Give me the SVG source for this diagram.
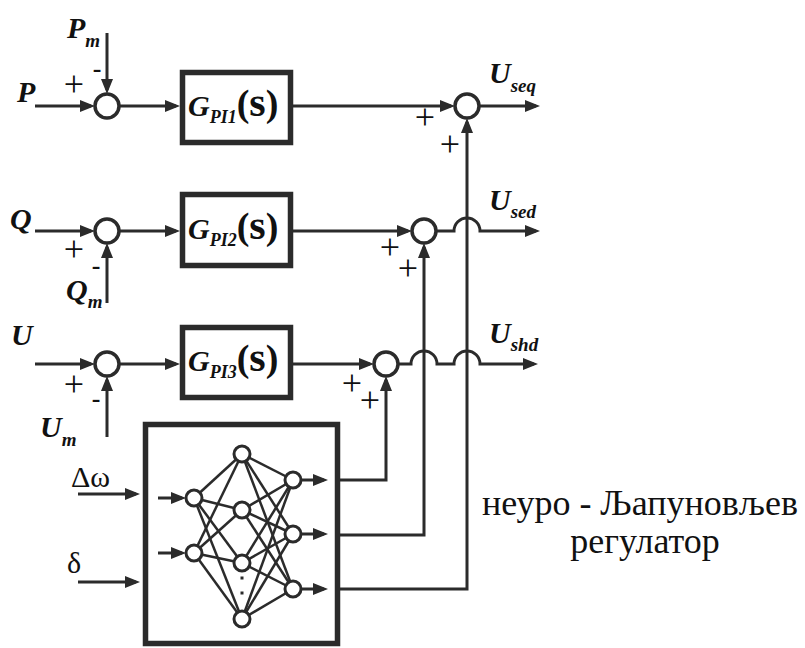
<svg xmlns="http://www.w3.org/2000/svg" width="805" height="648" viewBox="0 0 805 648">
<style>
.ln{fill:none;stroke:#2b2b2b;stroke-width:3}
.ar{marker-end:url(#arr)}
.sum{fill:#fff;stroke:#2b2b2b;stroke-width:3.5}
.box{fill:#fff;stroke:#2b2b2b;stroke-width:5.5}
.nn{fill:#fff;stroke:#2b2b2b;stroke-width:3}
.ed{stroke:#2b2b2b;stroke-width:2.5}
.serif{font-family:'Liberation Serif','DejaVu Serif','Noto Serif',serif}
</style>
<defs>
<marker id="arr" markerUnits="userSpaceOnUse" viewBox="0 0 15 12" refX="11" refY="6" markerWidth="15" markerHeight="12" orient="auto">
<path d="M0,0 L15,6 L0,12 Z" fill="#2b2b2b"/>
</marker>
</defs>

<g id="connectors">
<path class="ln ar" d="M35 106 H91"/>
<path class="ln ar" d="M107 33 V90"/>
<path class="ln ar" d="M119 106 H176"/>
<path class="ln ar" d="M293 106 H451"/>
<path class="ln ar" d="M479 106 H536"/>
<path class="ln ar" d="M35 231 H91"/>
<path class="ln ar" d="M107 303 V247"/>
<path class="ln ar" d="M119 231 H176"/>
<path class="ln ar" d="M293 231 H408"/>
<path class="ln ar" d="M436 231 H454 A13 13 0 0 1 480 231 H536"/>
<path class="ln ar" d="M35 364 H91"/>
<path class="ln ar" d="M107 437 V380"/>
<path class="ln ar" d="M119 364 H176"/>
<path class="ln ar" d="M293 364 H370"/>
<path class="ln ar" d="M398 364 H411 A13 13 0 0 1 437 364 H454 A13 13 0 0 1 480 364 H534"/>
<path class="ln ar" d="M340 480 H386 V380"/>
<path class="ln ar" d="M340 535 H424 V247"/>
<path class="ln ar" d="M340 589 H467 V122"/>
<path class="ln ar" d="M78 494 H136"/>
<path class="ln ar" d="M78 582 H136"/>
</g>

<g id="sum1"><circle class="sum" cx="107" cy="106" r="12"/></g>
<g id="sum2"><circle class="sum" cx="107" cy="231" r="12"/></g>
<g id="sum3"><circle class="sum" cx="107" cy="364" r="12"/></g>
<g id="sumR1"><circle class="sum" cx="467" cy="106" r="12"/></g>
<g id="sumR2"><circle class="sum" cx="424" cy="231" r="12"/></g>
<g id="sumR3"><circle class="sum" cx="386" cy="364" r="12"/></g>

<g class="serif" font-weight="bold" fill="#111">
<g id="box1"><rect class="box" x="182.5" y="72.5" width="108" height="70"/>
<text x="188" y="116"><tspan font-style="italic" font-size="30">G</tspan><tspan font-style="italic" font-size="18" dy="7">PI1</tspan><tspan font-size="38" dy="-7">(</tspan><tspan font-size="42">s</tspan><tspan font-size="38">)</tspan></text></g>
<g id="box2"><rect class="box" x="182.5" y="194.5" width="108" height="71"/>
<text x="188" y="239"><tspan font-style="italic" font-size="30">G</tspan><tspan font-style="italic" font-size="18" dy="7">PI2</tspan><tspan font-size="38" dy="-7">(</tspan><tspan font-size="42">s</tspan><tspan font-size="38">)</tspan></text></g>
<g id="box3"><rect class="box" x="182.5" y="327.5" width="108" height="70"/>
<text x="188" y="371"><tspan font-style="italic" font-size="30">G</tspan><tspan font-style="italic" font-size="18" dy="7">PI3</tspan><tspan font-size="38" dy="-7">(</tspan><tspan font-size="42">s</tspan><tspan font-size="38">)</tspan></text></g>
</g>

<g id="labels" class="serif" fill="#111">
<g font-weight="bold" font-style="italic" font-size="30">
<text x="17" y="102">P</text>
<text x="67" y="38">P<tspan font-size="19" dy="9">m</tspan></text>
<text x="10" y="229">Q</text>
<text x="66" y="300">Q<tspan font-size="19" dy="8">m</tspan></text>
<text x="11" y="345">U</text>
<text x="40" y="437">U<tspan font-size="19" dy="9">m</tspan></text>
<text x="489" y="83">U<tspan font-size="19" dy="9">seq</tspan></text>
<text x="489" y="210">U<tspan font-size="19" dy="8">sed</tspan></text>
<text x="489" y="343">U<tspan font-size="19" dy="8">shd</tspan></text>
</g>
<text font-size="30" x="71" y="487">Δω</text>
<text font-size="30" x="67" y="573">δ</text>
<text font-size="36" x="640" y="515" text-anchor="middle">неуро - Љапуновљев</text>
<text font-size="36" x="645" y="553" text-anchor="middle">регулатор</text>
</g>

<g id="signs" class="serif" fill="#111" text-anchor="middle">
<g font-size="36">
<text x="74" y="96">+</text>
<text x="74" y="261">+</text>
<text x="74" y="396">+</text>
<text x="425" y="129">+</text>
<text x="450" y="156">+</text>
<text x="390" y="259">+</text>
<text x="408" y="280">+</text>
<text x="352" y="395">+</text>
<text x="370" y="412">+</text>
</g>
<g font-weight="bold" font-size="26">
<text x="97" y="77">-</text>
<text x="96" y="274">-</text>
<text x="96" y="407">-</text>
</g>
</g>

<g id="nn">
<rect class="box" x="145.5" y="424.5" width="192" height="219"/>
<g class="ed">
<line x1="194" y1="498" x2="242" y2="454"/><line x1="194" y1="498" x2="242" y2="510"/><line x1="194" y1="498" x2="242" y2="563"/><line x1="194" y1="498" x2="242" y2="619"/>
<line x1="194" y1="553" x2="242" y2="454"/><line x1="194" y1="553" x2="242" y2="510"/><line x1="194" y1="553" x2="242" y2="563"/><line x1="194" y1="553" x2="242" y2="619"/>
<line x1="242" y1="454" x2="293" y2="480"/><line x1="242" y1="454" x2="293" y2="534"/><line x1="242" y1="454" x2="293" y2="589"/>
<line x1="242" y1="510" x2="293" y2="480"/><line x1="242" y1="510" x2="293" y2="534"/><line x1="242" y1="510" x2="293" y2="589"/>
<line x1="242" y1="563" x2="293" y2="480"/><line x1="242" y1="563" x2="293" y2="534"/><line x1="242" y1="563" x2="293" y2="589"/>
<line x1="242" y1="619" x2="293" y2="480"/><line x1="242" y1="619" x2="293" y2="534"/><line x1="242" y1="619" x2="293" y2="589"/>
</g>
<path class="ln ar" d="M158 498 H182"/>
<path class="ln ar" d="M158 553 H182"/>
<path class="ln ar" d="M301 480 H324"/>
<path class="ln ar" d="M301 534 H324"/>
<path class="ln ar" d="M301 589 H324"/>
<circle class="nn" cx="194" cy="498" r="8"/><circle class="nn" cx="194" cy="553" r="8"/>
<circle class="nn" cx="242" cy="454" r="8"/><circle class="nn" cx="242" cy="510" r="8"/><circle class="nn" cx="242" cy="563" r="8"/><circle class="nn" cx="242" cy="619" r="8"/>
<circle class="nn" cx="293" cy="480" r="8"/><circle class="nn" cx="293" cy="534" r="8"/><circle class="nn" cx="293" cy="589" r="8"/>
<rect x="240.5" y="576.5" width="3" height="3" fill="#2b2b2b"/>
<rect x="240.5" y="591.5" width="3" height="3" fill="#2b2b2b"/>
</g>
</svg>
